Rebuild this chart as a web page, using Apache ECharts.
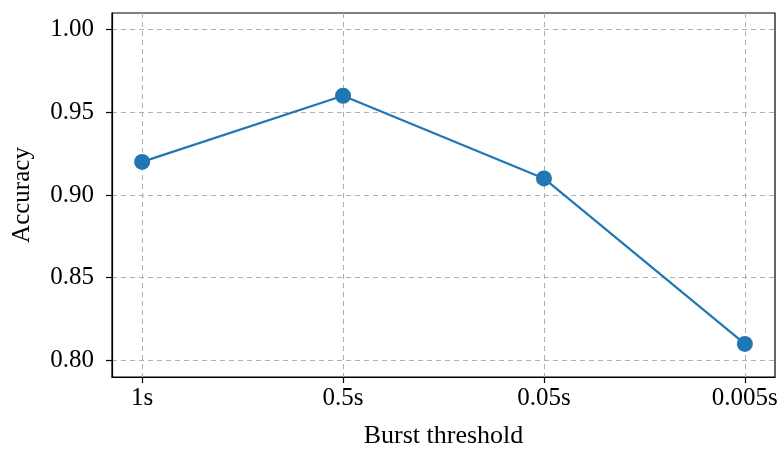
<!DOCTYPE html>
<html>
<head>
<meta charset="utf-8">
<script src="https://cdn.jsdelivr.net/npm/echarts@6/dist/echarts.min.js"></script>
<style>html,body{margin:0;padding:0;background:#fff;}#c{width:782px;height:450px;}</style>
</head>
<body>
<div id="c"></div>
<script>
const categories = ['1s', '0.5s', '0.05s', '0.005s'];
const accuracy = [0.92, 0.96, 0.91, 0.81];
const yTicks = [0.80, 0.85, 0.90, 0.95, 1.00];

const chart = echarts.init(document.getElementById('c'), null, {renderer: 'canvas'});
const font = 'Liberation Serif';
const fs = 25;
const xIdx = categories.map((_, i) => i);
chart.setOption({
  animation: false,
  backgroundColor: '#fff',
  grid: {left: 112, right: 7, top: 13, bottom: 73, outerBoundsMode: 'none', containLabel: false, show: true, borderColor: '#000', borderWidth: 1.2, backgroundColor: 'transparent'},
  xAxis: {
    type: 'value', min: -0.15, max: 3.15,
    name: 'Burst threshold', nameLocation: 'middle', nameGap: 46,
    nameTextStyle: {fontFamily: font, fontSize: 26, color: '#000'},
    axisLine: {show: true, onZero: false, lineStyle: {color: '#000', width: 1.2}},
    axisTick: {show: true, customValues: xIdx, length: 6, lineStyle: {color: '#000', width: 1.2}},
    axisLabel: {customValues: xIdx, formatter: v => categories[Math.round(v)], fontFamily: font, fontSize: fs, color: '#000', margin: 9},
    splitLine: {show: true, lineStyle: {color: '#b0b0b0', type: [5, 4], width: 1}}
  },
  yAxis: {
    type: 'value', min: 0.79, max: 1.01,
    name: 'Accuracy', nameLocation: 'middle', nameGap: 77,
    nameTextStyle: {fontFamily: font, fontSize: fs, color: '#000'},
    axisLine: {show: true, onZero: false, lineStyle: {color: '#000', width: 1.2}},
    axisTick: {show: true, customValues: yTicks, length: 6, lineStyle: {color: '#000', width: 1.2}},
    axisLabel: {customValues: yTicks, formatter: v => v.toFixed(2), fontFamily: font, fontSize: fs, color: '#000', margin: 18},
    splitLine: {show: true, lineStyle: {color: '#b0b0b0', type: [5, 4], width: 1}}
  },
  series: [{
    type: 'line',
    data: accuracy.map((v, i) => [xIdx[i], v]),
    symbol: 'circle', symbolSize: 16,
    lineStyle: {color: '#1f77b4', width: 2.2},
    itemStyle: {color: '#1f77b4'}
  }]
});
</script>
</body>
</html>
